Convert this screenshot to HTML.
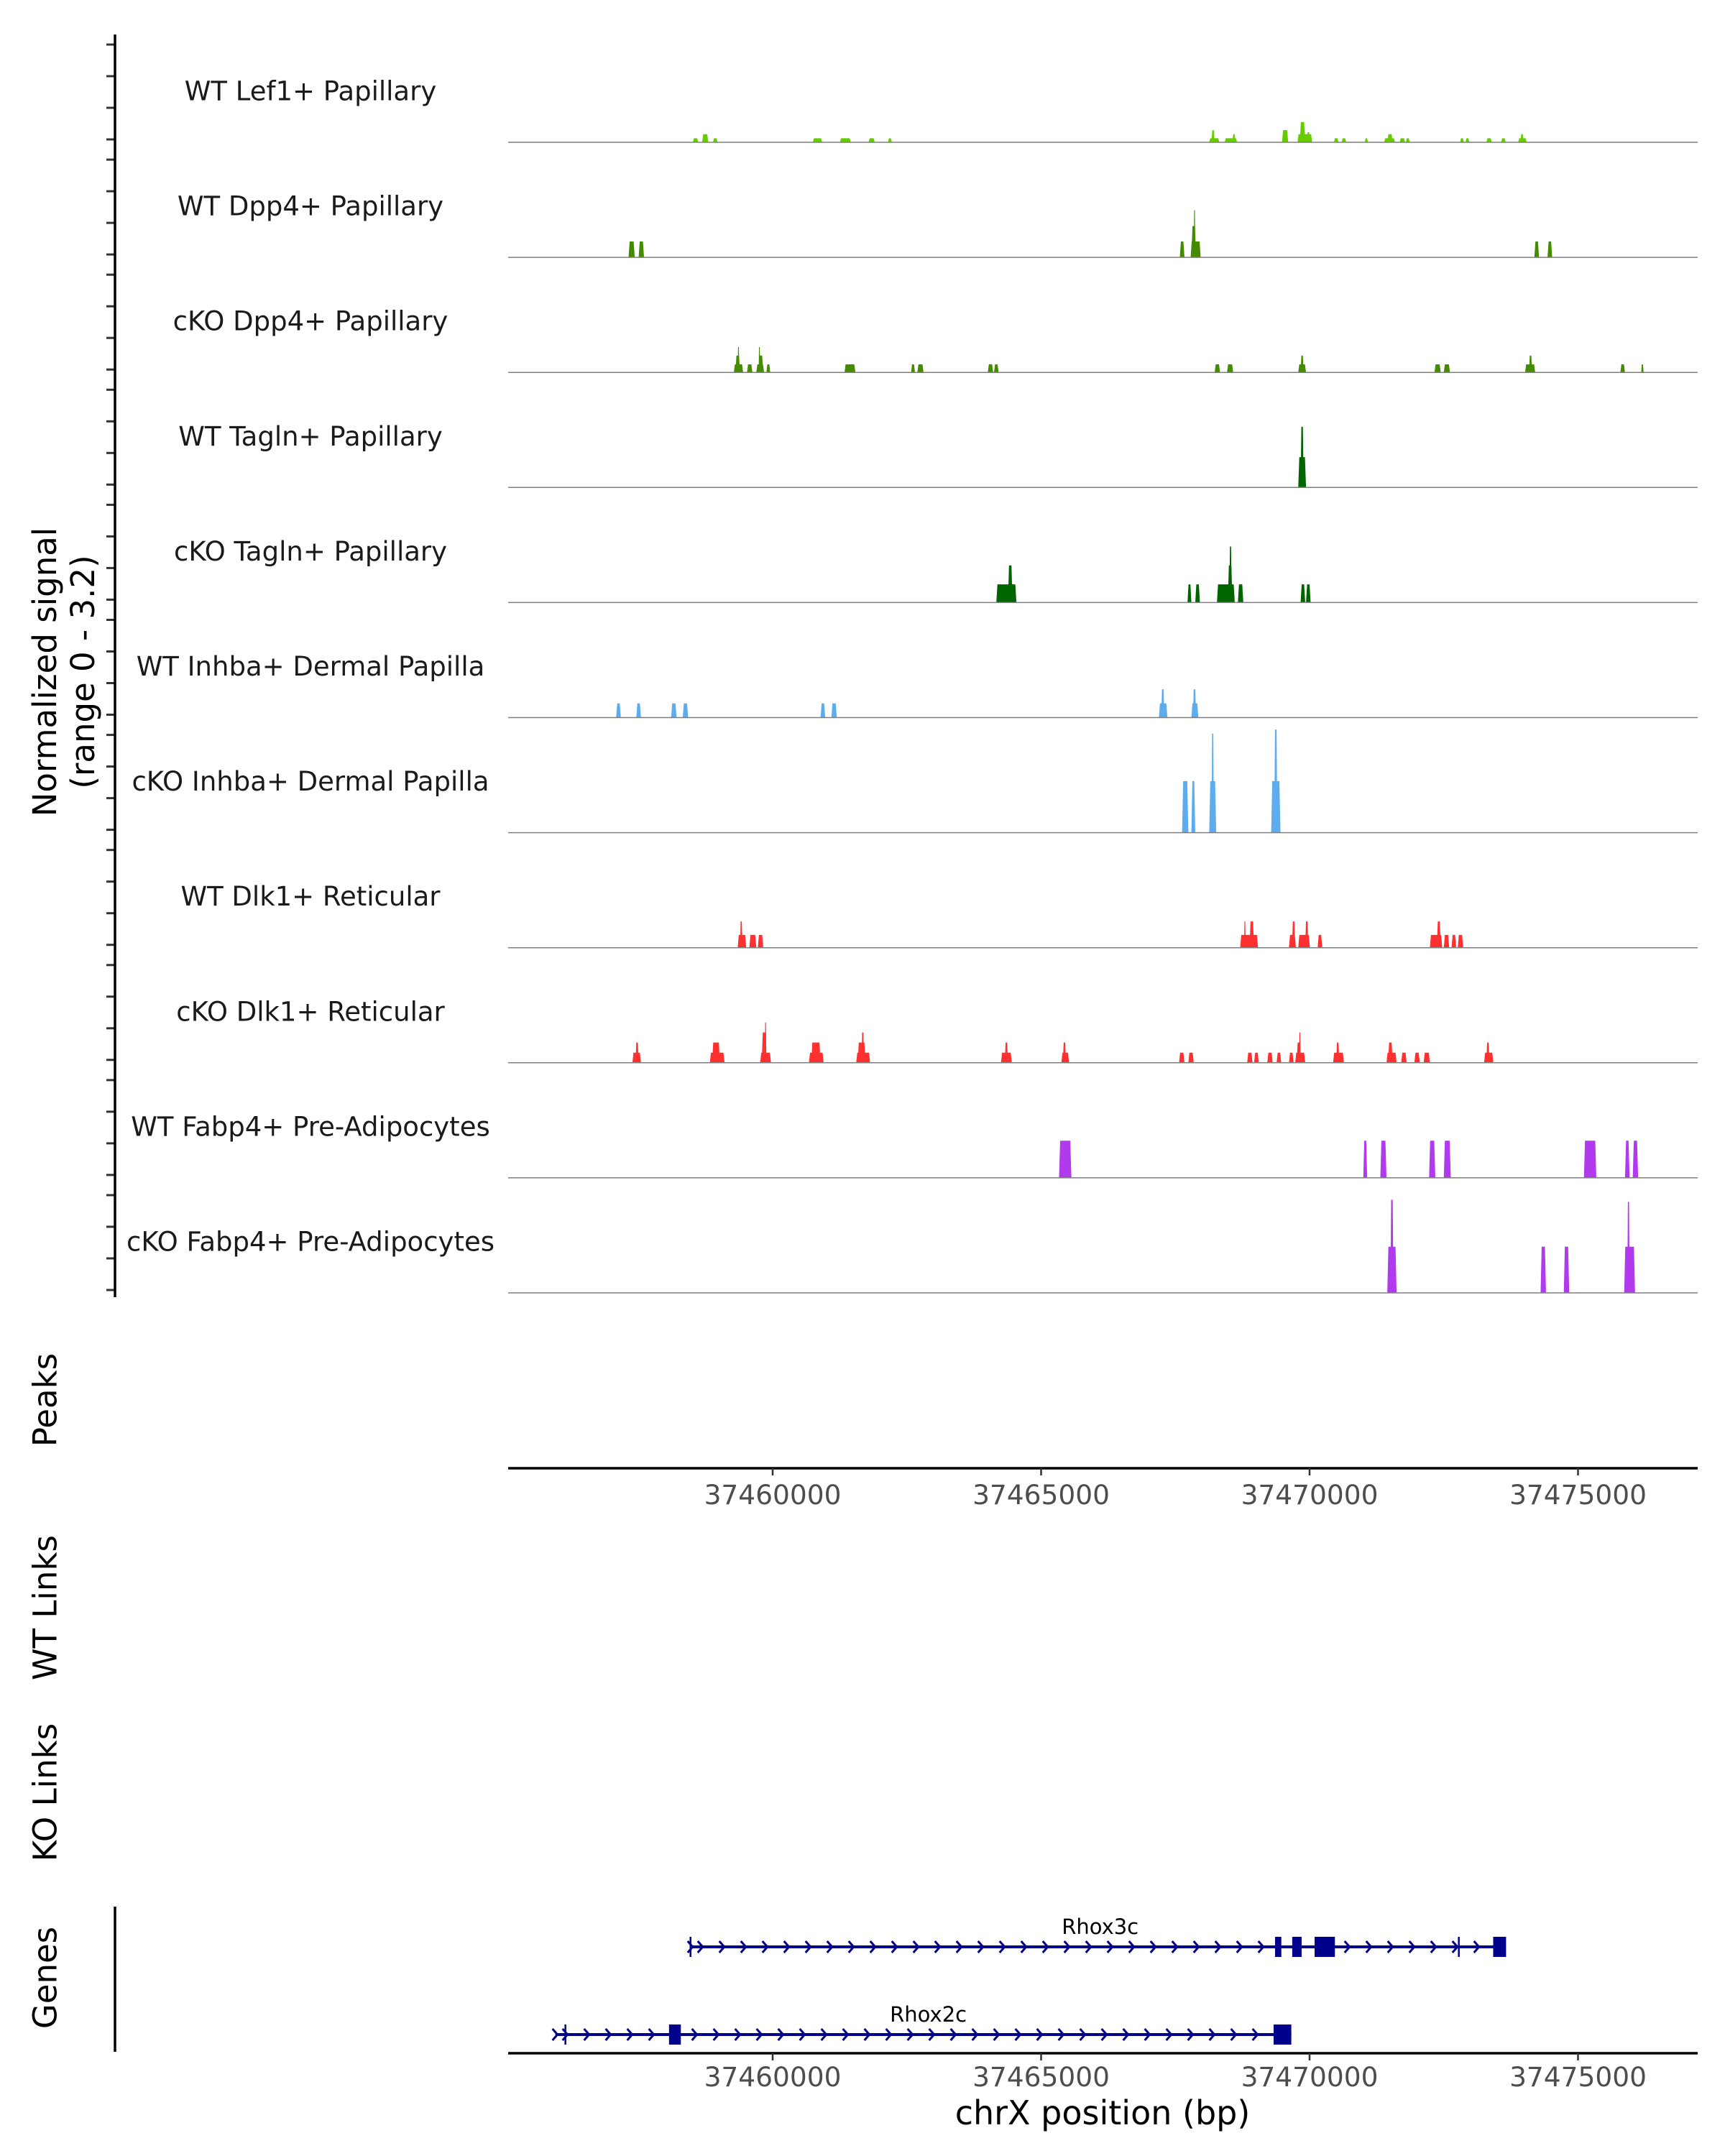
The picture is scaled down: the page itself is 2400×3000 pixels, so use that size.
<!DOCTYPE html>
<html><head><meta charset="utf-8"><style>
html,body{margin:0;padding:0;background:#fff;}
svg{display:block;font-family:"DejaVu Sans","Liberation Sans",sans-serif;}
</style></head><body>
<svg id="chart" xmlns="http://www.w3.org/2000/svg" width="2400" height="3000" viewBox="0 0 2400 3000">
<rect x="0" y="0" width="2400" height="3000" fill="#fff"/>
<g id="tracks"></g>
<g id="axes"></g>
<g id="genes"></g>
<text x="92" y="935" transform="rotate(-90 92 935)" text-anchor="middle" font-size="45" fill="#000"><tspan x="92" dy="-14">Normalized signal</tspan><tspan x="92" dy="53">(range 0 - 3.2)</tspan></text>
<text x="63" y="1948" transform="rotate(-90 63 1948)" text-anchor="middle" dominant-baseline="central" font-size="45">Peaks</text>
<text x="63" y="2237" transform="rotate(-90 63 2237)" text-anchor="middle" dominant-baseline="central" font-size="45">WT Links</text>
<text x="63" y="2494" transform="rotate(-90 63 2494)" text-anchor="middle" dominant-baseline="central" font-size="45">KO Links</text>
<text x="63" y="2752" transform="rotate(-90 63 2752)" text-anchor="middle" dominant-baseline="central" font-size="45">Genes</text>
<text x="1534" y="2940" text-anchor="middle" dominant-baseline="central" font-size="46">chrX position (bp)</text>
</svg>
<script>
const trackNames = ["WT Lef1+ Papillary","WT Dpp4+ Papillary","cKO Dpp4+ Papillary","WT Tagln+ Papillary","cKO Tagln+ Papillary","WT Inhba+ Dermal Papilla","cKO Inhba+ Dermal Papilla","WT Dlk1+ Reticular","cKO Dlk1+ Reticular","WT Fabp4+ Pre-Adipocytes","cKO Fabp4+ Pre-Adipocytes"];
const trackColors = ["#66CC00","#458B00","#458B00","#006400","#006400","#5CACEE","#5CACEE","#FF3030","#FF3030","#B23AEE","#B23AEE"];
const lef1 = [[37458513,37458614,0.12],[37458686,37458801,0.24],[37458888,37458974,0.12],[37460748,37460921,0.12],[37461253,37461455,0.12],[37461786,37461902,0.12],[37462147,37462219,0.12],[37468131,37468319,0.12],[37468174,37468232,0.36],[37468419,37468650,0.12],[37468564,37468621,0.24],[37469487,37469602,0.36],[37469775,37470049,0.24],[37469818,37469919,0.6],[37469948,37470006,0.3],[37470453,37470539,0.12],[37470597,37470683,0.12],[37471029,37471087,0.12],[37471390,37471592,0.12],[37471448,37471549,0.24],[37471678,37471779,0.12],[37471794,37471866,0.12],[37472803,37472875,0.12],[37472904,37472976,0.12],[37473293,37473394,0.12],[37473567,37473654,0.12],[37473885,37474044,0.12],[37473928,37473986,0.24]];
const wtDpp4 = [[37457316,37457431,0.47],[37457504,37457604,0.47],[37467583,37467670,0.47],[37467785,37467972,0.47],[37467799,37467886,0.93],[37467843,37467871,1.4],[37474187,37474274,0.47],[37474432,37474519,0.47]];
const koDpp4 = [[37459277,37459450,0.24],[37459306,37459393,0.5],[37459349,37459378,0.75],[37459522,37459623,0.24],[37459695,37459840,0.24],[37459739,37459825,0.5],[37459739,37459767,0.75],[37459883,37459955,0.24],[37461339,37461541,0.24],[37462579,37462651,0.24],[37462695,37462810,0.24],[37464007,37464108,0.24],[37464122,37464209,0.24],[37468232,37468333,0.24],[37468463,37468578,0.24],[37469789,37469934,0.24],[37469833,37469890,0.5],[37472327,37472443,0.24],[37472500,37472616,0.24],[37474014,37474202,0.24],[37474087,37474144,0.5],[37475788,37475875,0.24],[37476177,37476221,0.24]];
const wtTagln = [[37469789,37469934,0.9],[37469833,37469890,1.8]];
const koTagln = [[37464166,37464540,0.54],[37464382,37464468,1.1],[37467727,37467799,0.54],[37467871,37467958,0.54],[37468275,37468607,0.54],[37468477,37468564,1.1],[37468506,37468549,1.66],[37468665,37468766,0.54],[37469833,37469919,0.54],[37469934,37470020,0.54]];
const wtInhba = [[37457085,37457172,0.42],[37457460,37457547,0.42],[37458109,37458210,0.42],[37458325,37458426,0.42],[37460892,37460979,0.42],[37461094,37461195,0.42],[37467194,37467352,0.42],[37467237,37467295,0.84],[37467799,37467929,0.42],[37467828,37467886,0.84]];
const koInhba = [[37467626,37467742,1.53],[37467799,37467871,1.53],[37468131,37468261,1.53],[37468174,37468218,2.94],[37469285,37469458,1.53],[37469342,37469400,3.06]];
const wtDlk1 = [[37459349,37459508,0.38],[37459393,37459436,0.78],[37459566,37459695,0.38],[37459724,37459825,0.38],[37468708,37469040,0.38],[37468780,37468809,0.78],[37468881,37468967,0.78],[37469616,37469746,0.38],[37469674,37469732,0.78],[37469789,37470006,0.38],[37469919,37469977,0.78],[37470150,37470236,0.38],[37472241,37472471,0.38],[37472371,37472443,0.78],[37472500,37472601,0.38],[37472645,37472731,0.38],[37472760,37472861,0.38]];
const koDlk1 = [[37457388,37457547,0.3],[37457446,37457504,0.6],[37458830,37459104,0.3],[37458873,37459018,0.6],[37459767,37459969,0.3],[37459796,37459883,0.9],[37459854,37459883,1.2],[37460676,37460950,0.3],[37460719,37460892,0.6],[37461556,37461815,0.3],[37461584,37461729,0.6],[37461656,37461700,0.9],[37464252,37464454,0.3],[37464324,37464382,0.6],[37465377,37465521,0.3],[37465406,37465463,0.6],[37467569,37467670,0.3],[37467742,37467843,0.3],[37468838,37468938,0.3],[37468967,37469054,0.3],[37469213,37469313,0.3],[37469386,37469472,0.3],[37469616,37469703,0.3],[37469732,37469919,0.3],[37469760,37469833,0.6],[37469804,37469833,0.9],[37470438,37470640,0.3],[37470496,37470554,0.6],[37471433,37471621,0.3],[37471462,37471549,0.6],[37471707,37471808,0.3],[37471952,37472053,0.3],[37472125,37472241,0.3],[37473250,37473423,0.3],[37473293,37473351,0.6]];
const wtFabp4 = [[37465334,37465564,1.1],[37471001,37471073,1.1],[37471318,37471433,1.1],[37472226,37472342,1.1],[37472500,37472630,1.1],[37475110,37475341,1.1],[37475875,37475961,1.1],[37476019,37476120,1.1]];
const koFabp4 = [[37471448,37471621,1.37],[37471505,37471563,2.76],[37474303,37474404,1.37],[37474735,37474836,1.37],[37475860,37476062,1.37],[37475918,37475961,2.7]];
const trackData = [lef1,wtDpp4,koDpp4,wtTagln,koTagln,wtInhba,koInhba,wtDlk1,koDlk1,wtFabp4,koFabp4];
const xTicks = [37460000,37465000,37470000,37475000];
const xTickLabels = ["37460000","37465000","37470000","37475000"];
const geneNames = ["Rhox3c","Rhox2c"];
const geneStarts = [37458470,37455952];
const geneEnds = [37473620,37469660];
const geneLabelPos = [37466100,37462900];
const geneExons = [[[37469357,37469474],[37469677,37469852],[37470094,37470472],[37473420,37473660]],[[37458070,37458290],[37469330,37469660]]];
const geneMarks = [[37458470,37472780],[37456140]];

const NS="http://www.w3.org/2000/svg";
const PL=707, PR=2362;
function xs(bp){return 1075+(bp-37460000)*0.0747;}
function baseY(i){return 198+160.1*i;}
function ys(i,v){return baseY(i)-v*46.9;}
function mk(tag,attrs,parent){const e=document.createElementNS(NS,tag);for(const k in attrs)e.setAttribute(k,attrs[k]);parent.appendChild(e);return e;}
const tracks=document.getElementById('tracks'), axes=document.getElementById('axes'), genes=document.getElementById('genes');

trackData.forEach((arr,i)=>{
  const g=mk('g',{},tracks);
  
  
  const lab=mk('text',{x:432,y:baseY(i)-71,'text-anchor':'middle','dominant-baseline':'central','font-size':37,fill:'#1a1a1a'},g);
  lab.textContent=trackNames[i];
  
  
  arr.forEach(p=>{
    const x0=xs(p[0]),x1=xs(p[1]),yt=ys(i,p[2]),yb=baseY(i);
    const t=Math.min(1.5,(x1-x0)/4);
    const poly=mk('polygon',{points:`${x0},${yb} ${x0+t},${yt} ${x1-t},${yt} ${x1},${yb}`,fill:trackColors[i]},g);
    
    
  });
  const bl=mk('line',{x1:PL,x2:PR,y1:baseY(i),y2:baseY(i),stroke:'#7f7f7f','stroke-width':1.5},g);
  
  
  for(let k=0;k<4;k++){
    const ty=baseY(i)-4-44*k;
    const tk=mk('line',{x1:148,x2:160,y1:ty,y2:ty,stroke:'#333','stroke-width':3},axes);
    
    
  }
});
const ya=mk('line',{x1:160,x2:160,y1:48,y2:1805,stroke:'#000','stroke-width':3.5},axes);


const ga=mk('line',{x1:160,x2:160,y1:2653,y2:2855,stroke:'#000','stroke-width':3.5},axes);



[[2043,2080],[2857,2890]].forEach((a,j)=>{
  const l=mk('line',{x1:PL,x2:PR,y1:a[0],y2:a[0],stroke:'#000','stroke-width':3.5},axes);
  
  
  xTicks.forEach((t,k)=>{
    const tl=mk('line',{x1:xs(t),x2:xs(t),y1:a[0],y2:a[0]+10,stroke:'#333','stroke-width':2.5},axes);
    
    
    const tx=mk('text',{x:xs(t),y:a[1],'text-anchor':'middle','dominant-baseline':'central','font-size':37.5,fill:'#4D4D4D'},axes);
    tx.textContent=xTickLabels[k];
    
    
  });
});

const geneY=[2709,2831];
geneNames.forEach((n,i)=>{
  const g=mk('g',{},genes);
  
  
  const y=geneY[i], c='#00008B';
  const x0=xs(geneStarts[i]), x1=xs(geneEnds[i]);
  mk('line',{x1:x0,x2:x1,y1:y,y2:y,stroke:c,'stroke-width':4},g);
  for(let x=x0+14;x<x1-10;x+=30){
    const inEx=geneExons[i].some(e=>x>xs(e[0])-8&&x<xs(e[1])+8);
    if(inEx)continue;
    mk('polyline',{points:`${x-4},${y-8} ${x+3},${y} ${x-4},${y+8}`,fill:'none',stroke:c,'stroke-width':3},g);
  }
  mk('polyline',{points:`${x0-4},${y-8} ${x0+3},${y} ${x0-4},${y+8}`,fill:'none',stroke:c,'stroke-width':3},g);
  geneMarks[i].forEach(m=>{mk('line',{x1:xs(m),x2:xs(m),y1:y-14,y2:y+14,stroke:c,'stroke-width':2.5},g);});
  geneExons[i].forEach(e=>{
    const r=mk('rect',{x:xs(e[0]),y:y-14,width:Math.max(4,xs(e[1])-xs(e[0])),height:28,fill:c},g);
    
    
  });
  const t=mk('text',{x:xs(geneLabelPos[i]),y:y-18,'text-anchor':'middle','font-size':29,fill:'#000'},g);
  t.textContent=n;
  
  
});
</script>
</body></html>
